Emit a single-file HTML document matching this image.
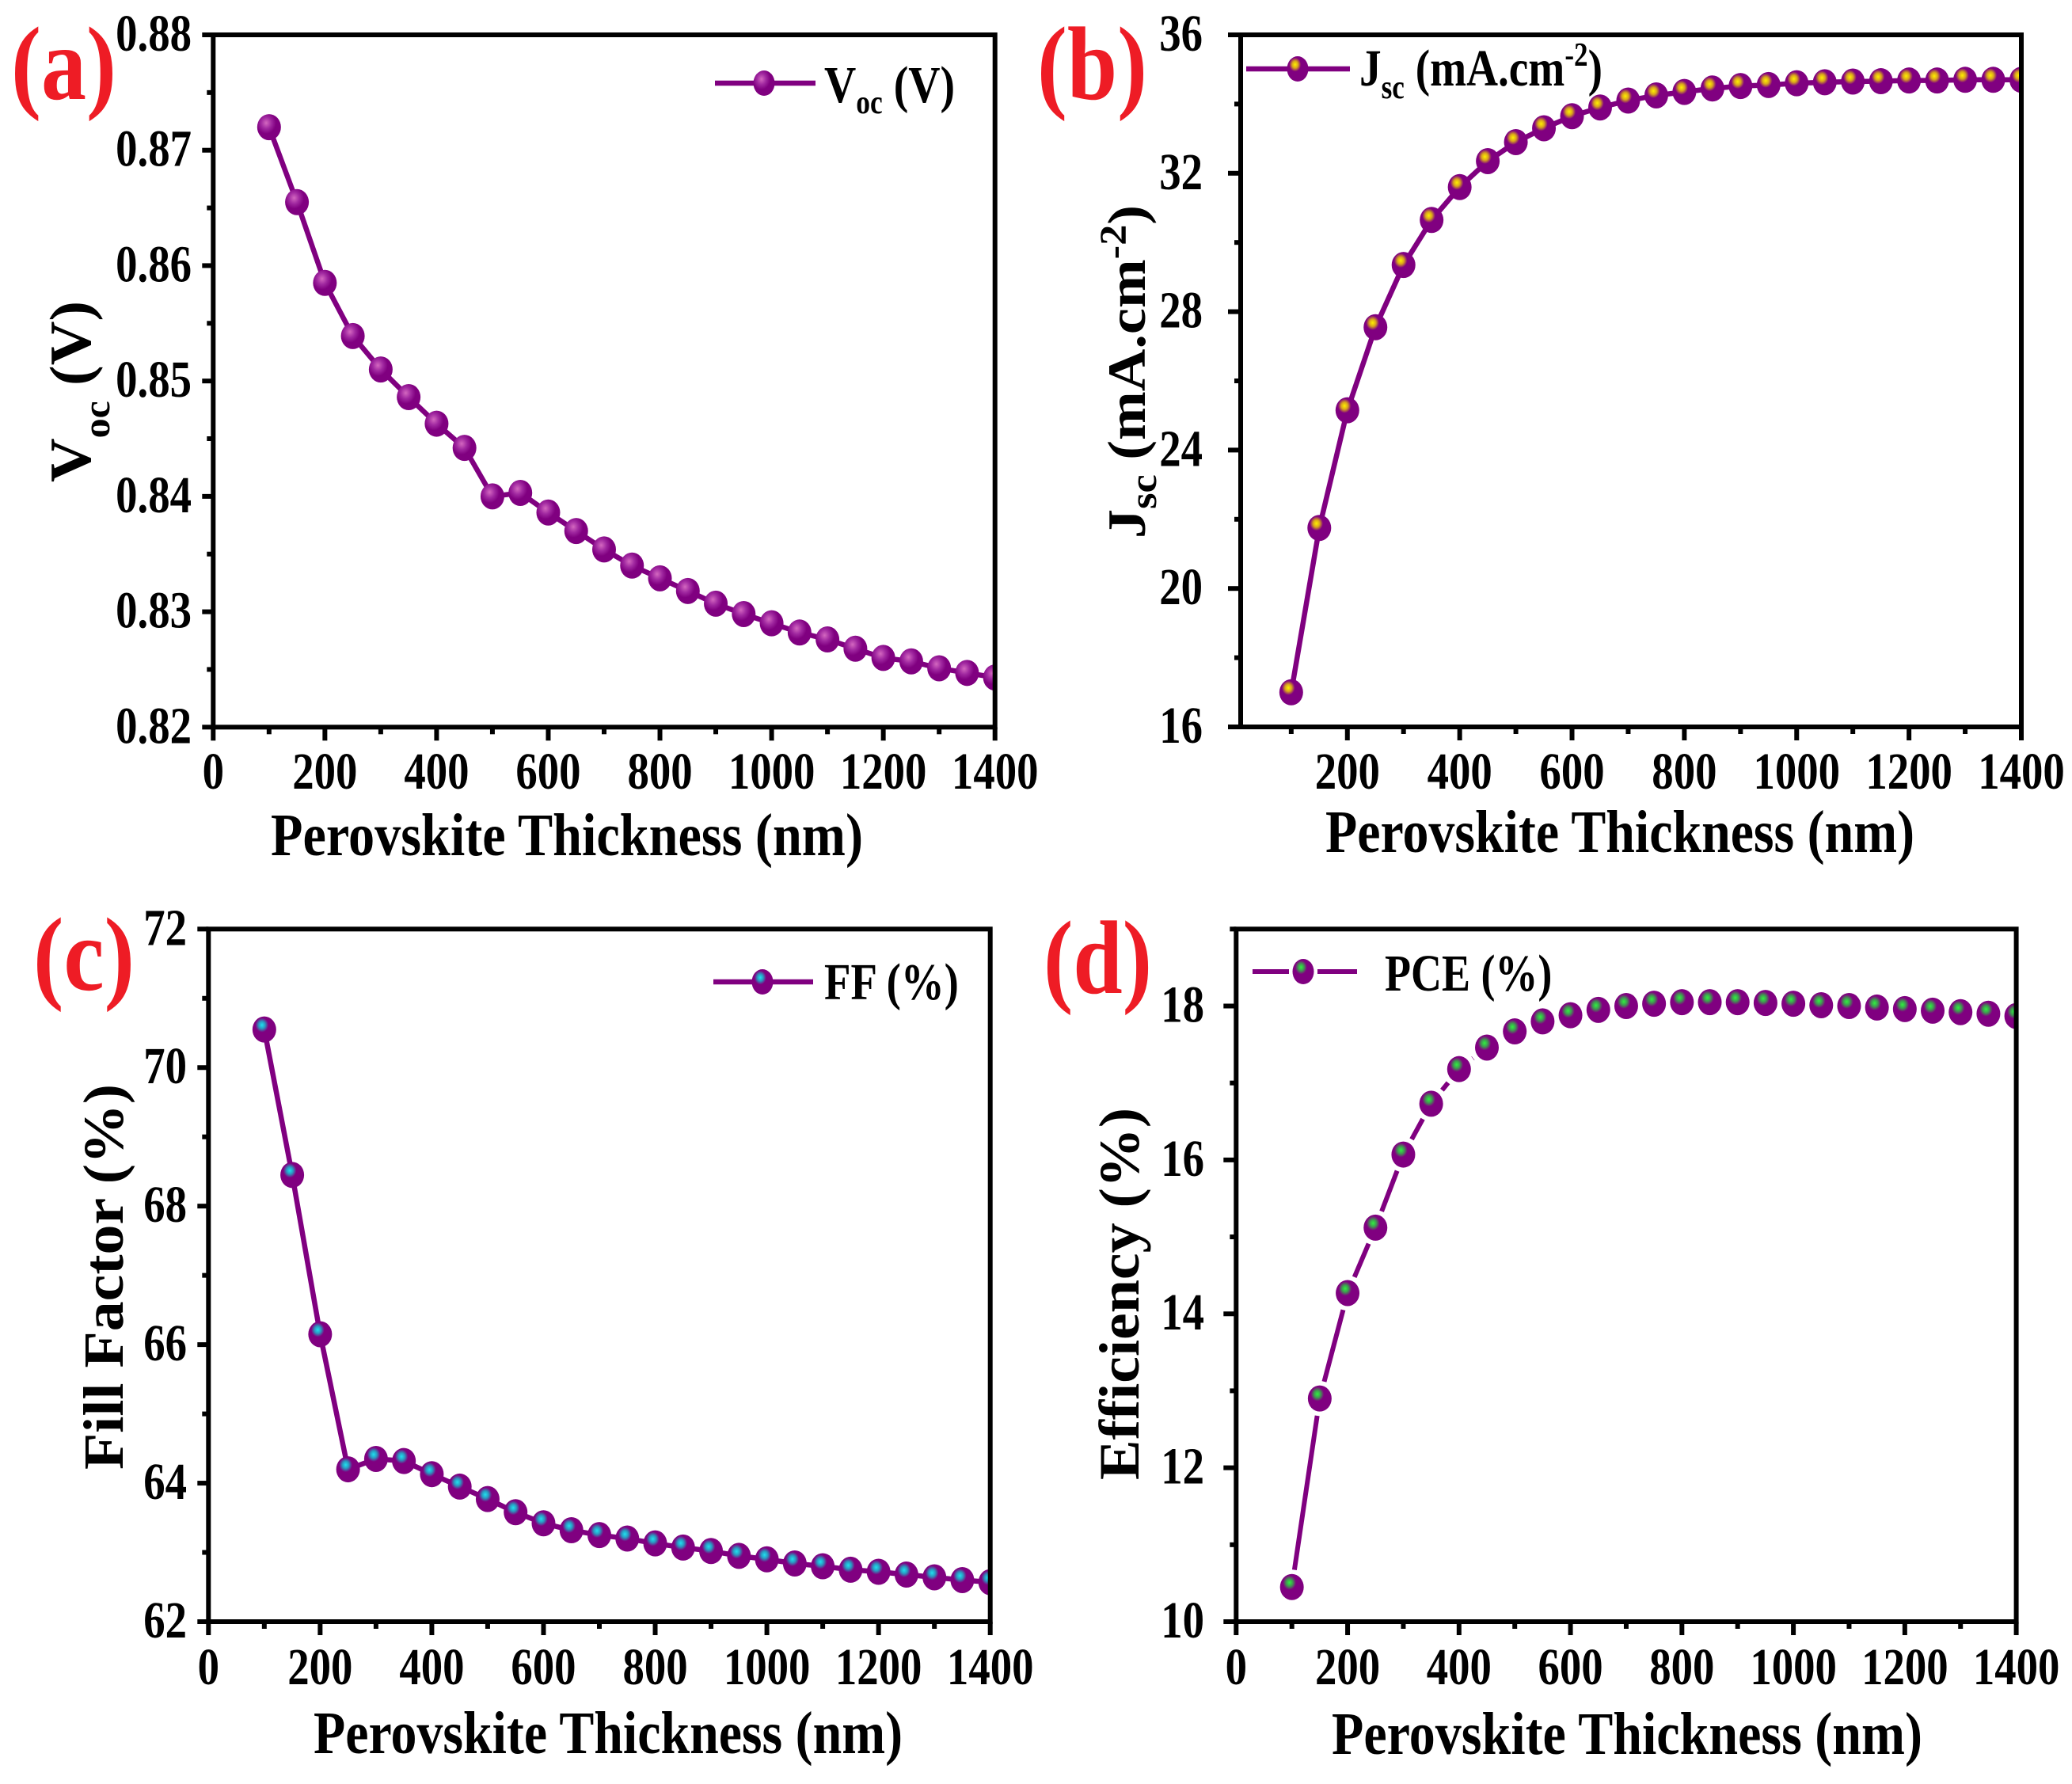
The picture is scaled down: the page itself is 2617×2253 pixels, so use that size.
<!DOCTYPE html>
<html lang="en">
<head>
<meta charset="utf-8">
<title>Perovskite thickness performance charts</title>
<style>
html,body{margin:0;padding:0;background:#fff}
svg{display:block}
text{font-family:"Liberation Serif",serif;font-weight:bold;fill:#000}
.panel-letter{fill:#ee1c25}
</style>
</head>
<body>
<svg id="figure" xmlns="http://www.w3.org/2000/svg" width="2617" height="2253" viewBox="0 0 2617 2253">
<defs>
<radialGradient id="ballA" cx=".38" cy=".34" r=".55"><stop offset="0" stop-color="#d468c0"/><stop offset=".4" stop-color="#a028a0"/><stop offset=".75" stop-color="#800080"/></radialGradient>
<radialGradient id="ballB" cx=".38" cy=".33" r=".55"><stop offset="0" stop-color="#fff000"/><stop offset=".25" stop-color="#d9a51c"/><stop offset=".5" stop-color="#800080"/></radialGradient>
<radialGradient id="ballC" cx=".4" cy=".33" r=".55"><stop offset="0" stop-color="#20e0f0"/><stop offset=".25" stop-color="#2a98c0"/><stop offset=".5" stop-color="#800080"/></radialGradient>
<radialGradient id="ballD" cx=".4" cy=".33" r=".55"><stop offset="0" stop-color="#30f040"/><stop offset=".25" stop-color="#3f9a50"/><stop offset=".5" stop-color="#800080"/></radialGradient>
</defs>

<text class="panel-letter" x="14" y="125" font-size="132" textLength="133" lengthAdjust="spacingAndGlyphs">(a)</text>
<text class="panel-letter" x="1310" y="125" font-size="132" textLength="139" lengthAdjust="spacingAndGlyphs">(b)</text>
<text class="panel-letter" x="42" y="1250" font-size="132" textLength="128" lengthAdjust="spacingAndGlyphs">(c)</text>
<text class="panel-letter" x="1318" y="1254" font-size="132" textLength="137" lengthAdjust="spacingAndGlyphs">(d)</text>

<text x="342" y="1080" font-size="76" textLength="748" lengthAdjust="spacingAndGlyphs">Perovskite Thickness (nm)</text>
<text x="1674" y="1076" font-size="76" textLength="744" lengthAdjust="spacingAndGlyphs">Perovskite Thickness (nm)</text>
<text x="396" y="2214" font-size="76" textLength="744" lengthAdjust="spacingAndGlyphs">Perovskite Thickness (nm)</text>
<text x="1682" y="2215" font-size="76" textLength="746" lengthAdjust="spacingAndGlyphs">Perovskite Thickness (nm)</text>

<text transform="translate(114,609) rotate(-90)" font-size="74" textLength="229" lengthAdjust="spacingAndGlyphs">V<tspan font-size="48" dy="24">oc</tspan><tspan dy="-24"> (V)</tspan></text>
<text transform="translate(1446,680) rotate(-90)" font-size="68" textLength="421" lengthAdjust="spacingAndGlyphs">J<tspan font-size="48" dy="14">sc</tspan><tspan dy="-14"> (mA.cm</tspan><tspan font-size="48" dy="-24">-2</tspan><tspan dy="24">)</tspan></text>
<text transform="translate(155,1856) rotate(-90)" font-size="72" textLength="487" lengthAdjust="spacingAndGlyphs">Fill Factor (%)</text>
<text transform="translate(1438,1869) rotate(-90)" font-size="72" textLength="470" lengthAdjust="spacingAndGlyphs">Efficiency (%)</text>

<g transform="translate(1041,129) scale(.845,1)">
<text font-size="66">V<tspan font-size="42" dy="14">oc</tspan><tspan dy="-14"> (V)</tspan></text>
</g>
<g transform="translate(1717,108) scale(.837,1)">
<text font-size="66">J<tspan font-size="42" dy="16">sc</tspan><tspan dy="-16"> (mA.cm</tspan><tspan font-size="42" dy="-25">-2</tspan><tspan dy="25">)</tspan></text>
</g>
<g transform="translate(1041,1262) scale(.83,1)">
<text font-size="66">FF (%)</text>
</g>
<g transform="translate(1749,1251) scale(.818,1)">
<text font-size="66">PCE (%)</text>
</g>
</svg>

<script>
const thickness = [100,150,200,250,300,350,400,450,500,550,600,650,700,750,800,850,900,950,1000,1050,1100,1150,1200,1250,1300,1350,1400];
const vocValues = [0.872,0.8655,0.8585,0.8539,0.851,0.8486,0.8463,0.8442,0.84,0.8403,0.8386,0.837,0.8354,0.834,0.8329,0.8318,0.8307,0.8298,0.829,0.8282,0.8276,0.8268,0.826,0.8257,0.8251,0.8247,0.8243];
const jscValues = [17,21.75,25.15,27.55,29.35,30.65,31.6,32.35,32.9,33.3,33.65,33.9,34.1,34.25,34.35,34.45,34.52,34.55,34.6,34.63,34.65,34.66,34.68,34.68,34.7,34.7,34.7];
const ffValues = [70.55,68.45,66.15,64.2,64.35,64.32,64.13,63.95,63.77,63.58,63.42,63.32,63.25,63.2,63.13,63.07,63.02,62.95,62.9,62.84,62.8,62.75,62.72,62.68,62.64,62.6,62.57];
const pceValues = [10.45,12.9,14.27,15.12,16.07,16.73,17.18,17.46,17.67,17.8,17.88,17.95,18.0,18.03,18.05,18.05,18.05,18.04,18.03,18.01,18.0,17.98,17.96,17.94,17.92,17.9,17.87];
const xTickLabels = ['0','200','400','600','800','1000','1200','1400'];
const xMinorTicks = [100,300,500,700,900,1100,1300];
const vocTickLabels = ['0.82','0.83','0.84','0.85','0.86','0.87','0.88'];
const vocMinorTicks = [0.825,0.835,0.845,0.855,0.865,0.875];
const jscTickLabels = ['16','20','24','28','32','36'];
const jscMinorTicks = [18,22,26,30,34];
const ffTickLabels = ['62','64','66','68','70','72'];
const ffMinorTicks = [63,65,67,69,71];
const pceTickLabels = ['10','12','14','16','18'];
const pceMinorTicks = [11,13,15,17,19];

const SVG_NS = 'http://www.w3.org/2000/svg';
const figure = document.getElementById('figure');
const PURPLE = '#800080';

function mk(parent, tag, attrs) {
  const node = document.createElementNS(SVG_NS, tag);
  for (const k in attrs) node.setAttribute(k, attrs[k]);
  parent.appendChild(node);
  return node;
}

function drawPanel(p) {
  const xScale = v => p.left + (v - p.xMin) / (p.xMax - p.xMin) * (p.right - p.left);
  const yScale = v => p.bottom - (v - p.yMin) / (p.yMax - p.yMin) * (p.bottom - p.top);

  const group = mk(figure, 'g', {});
  
  

  const clip = mk(group, 'clipPath', {id: 'clip-' + p.key});
  mk(clip, 'rect', {x: p.left, y: p.top, width: p.right - p.left, height: p.bottom - p.top});

  const plot = mk(group, 'g', {'clip-path': 'url(#clip-' + p.key + ')'});
  
  

  const pts = thickness.map((t, i) => [xScale(t), yScale(p.values[i])]);

  if (p.gap > 0) {
    for (let i = 0; i < pts.length - 1; i++) {
      const [x1, y1] = pts[i];
      const [x2, y2] = pts[i + 1];
      const len = Math.hypot(x2 - x1, y2 - y1);
      if (len <= p.gap * 2) continue;
      const ux = (x2 - x1) / len;
      const uy = (y2 - y1) / len;
      const seg = mk(plot, 'line', {x1: x1 + ux * p.gap, y1: y1 + uy * p.gap, x2: x2 - ux * p.gap, y2: y2 - uy * p.gap, stroke: PURPLE, 'stroke-width': 6});
      
      
    }
  } else {
    const line = mk(plot, 'polyline', {points: pts.map(q => q.join(',')).join(' '), fill: 'none', stroke: PURPLE, 'stroke-width': 6.5});
    
    
  }

  pts.forEach(([x, y]) => {
    const dot = mk(plot, 'ellipse', {cx: x, cy: y, rx: 15, ry: 16.5, fill: 'url(#' + p.ball + ')'});
    
    
  });

  // frame
  const frame = mk(group, 'rect', {x: p.left, y: p.top, width: p.right - p.left, height: p.bottom - p.top, fill: 'none', stroke: '#000', 'stroke-width': 6});
  
  

  // y ticks
  p.yLabels.forEach(lab => {
    const v = parseFloat(lab);
    const y = yScale(v);
    const tick = mk(group, 'line', {x1: p.left - p.yTickLen, x2: p.left, y1: y, y2: y, stroke: '#000', 'stroke-width': 6});
    
    
    const holder = mk(group, 'g', {transform: 'translate(' + p.yLabelRight + ',' + (y + 20) + ') scale(.83,1)'});
    const t = mk(holder, 'text', {'text-anchor': 'end', 'font-size': 66});
    t.textContent = lab;
    
    
  });
  p.yMinor.forEach(v => {
    const y = yScale(v);
    const tick = mk(group, 'line', {x1: p.left - 8, x2: p.left, y1: y, y2: y, stroke: '#000', 'stroke-width': 6});
    
    
  });

  // x ticks
  xTickLabels.forEach(lab => {
    const v = parseFloat(lab);
    if (v < p.xMin) return;
    const x = xScale(v);
    const tick = mk(group, 'line', {x1: x, x2: x, y1: p.bottom, y2: p.bottom + 17, stroke: '#000', 'stroke-width': 6});
    
    
    const holder = mk(group, 'g', {transform: 'translate(' + x + ',' + p.xLabelY + ') scale(.83,1)'});
    const t = mk(holder, 'text', {'text-anchor': 'middle', 'font-size': 66});
    t.textContent = lab;
    
    
  });
  xMinorTicks.forEach(v => {
    const x = xScale(v);
    const tick = mk(group, 'line', {x1: x, x2: x, y1: p.bottom, y2: p.bottom + 9, stroke: '#000', 'stroke-width': 6});
    
    
  });

  // legend symbol
  const lg = mk(group, 'g', {});
  
  
  const m = p.legend;
  if (p.gap > 0) {
    const l1 = mk(lg, 'line', {x1: m.x1, x2: m.mx - 18, y1: m.y, y2: m.y, stroke: PURPLE, 'stroke-width': 6});
    
    
    const l2 = mk(lg, 'line', {x1: m.mx + 18, x2: m.x2, y1: m.y, y2: m.y, stroke: PURPLE, 'stroke-width': 6});
    
    
  } else {
    const l = mk(lg, 'line', {x1: m.x1, x2: m.x2, y1: m.y, y2: m.y, stroke: PURPLE, 'stroke-width': 6.5});
    
    
  }
  const sym = mk(lg, 'ellipse', {cx: m.mx, cy: m.y, rx: 13.5, ry: 16, fill: 'url(#' + p.ball + ')'});
  
  
}

drawPanel({key:'voc', left:269.3, right:1256.7, top:44, bottom:918.3, xMin:0, xMax:1400, yMin:0.82, yMax:0.88,
  values:vocValues, yLabels:vocTickLabels, yMinor:vocMinorTicks, ball:'ballA', gap:0, yTickLen:14, yLabelRight:242, xLabelY:996,
  legend:{x1:903, x2:1030, y:105, mx:965}});
drawPanel({key:'jsc', left:1567, right:2553, top:44, bottom:918, xMin:10, xMax:1400, yMin:16, yMax:36,
  values:jscValues, yLabels:jscTickLabels, yMinor:jscMinorTicks, ball:'ballB', gap:0, yTickLen:16, yLabelRight:1519, xLabelY:996,
  legend:{x1:1574, x2:1705, y:87, mx:1639}});
drawPanel({key:'ff', left:263.3, right:1250.7, top:1173.3, bottom:2048, xMin:0, xMax:1400, yMin:62, yMax:72,
  values:ffValues, yLabels:ffTickLabels, yMinor:ffMinorTicks, ball:'ballC', gap:0, yTickLen:14, yLabelRight:236, xLabelY:2127,
  legend:{x1:901, x2:1027, y:1240, mx:963}});
drawPanel({key:'pce', left:1561.3, right:2546.6, top:1173.3, bottom:2048, xMin:0, xMax:1400, yMin:10, yMax:19,
  values:pceValues, yLabels:pceTickLabels, yMinor:pceMinorTicks, ball:'ballD', gap:22, yTickLen:16, yLabelRight:1521, xLabelY:2127,
  legend:{x1:1582, x2:1714, y:1227, mx:1646}});
</script>
</body>
</html>
